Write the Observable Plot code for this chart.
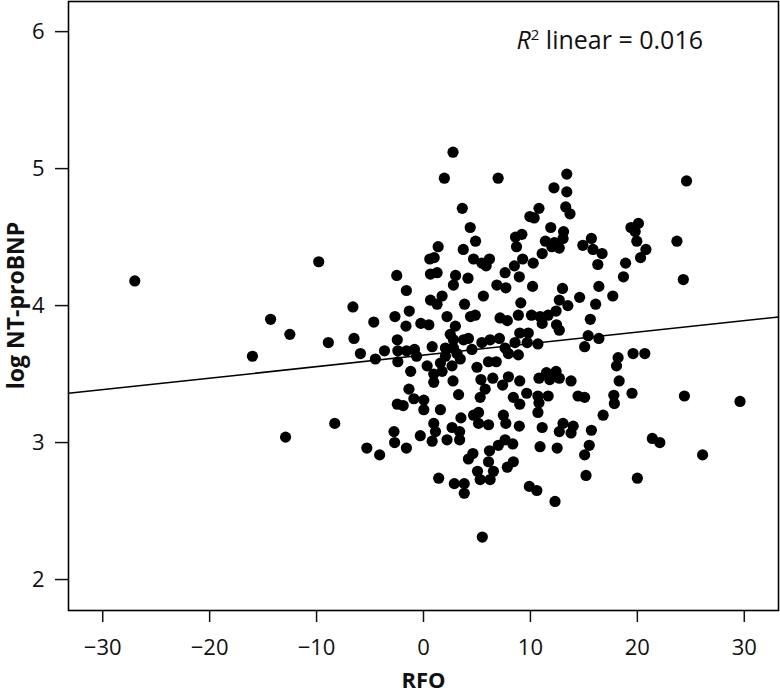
<!DOCTYPE html>
<html>
<head>
<meta charset="utf-8">
<script src="https://cdn.jsdelivr.net/npm/d3@7"></script>
<script src="https://cdn.jsdelivr.net/npm/@observablehq/plot@0.6"></script>
<style>
  body { margin: 0; background: #fff; }
  #chart { position: relative; width: 780px; height: 695px; }
  #chart svg { position: absolute; left: 0; top: 0; }
  .r2 { position: absolute; font-family: "Open Sans", sans-serif; font-size: 25px; line-height: 1; color: #111; white-space: nowrap; }
  .r2 i { font-style: italic; }
  .r2 sup { font-size: 15px; vertical-align: 0.6em; line-height: 0; }
  .ytitle { position: absolute; font-family: "Open Sans", sans-serif; font-weight: bold; font-size: 23px; line-height: 1; color: #111; white-space: nowrap; transform-origin: center center; }
</style>
</head>
<body>
<div id="chart"></div>
<script>
// RFO values (x)
const rfo = [
  -27.0, -16.0, -14.3, -12.5, -12.9, -9.8, -8.9, -8.3, -6.6, -6.5,
  -5.9, -5.3, -4.65, -4.5, -4.1, -3.65, -2.76, -2.7, -2.67, -2.5,
  -1.6, -1.33, -1.64, -2.45, -2.4, -1.58, -0.84, -0.65, -2.4, -1.2,
  -1.36, -0.9, -2.45, -1.9, -1.6, -0.3, -0.25,
  2.76, 1.95, 6.98, 13.4, 12.2, 13.4, 13.3, 13.7, 3.63, 10.8,
  9.95, 10.35, 4.37, 11.9, 13.1, 4.87, 8.6, 9.2, 8.7, 1.37,
  3.72, 11.4, 12.25, 12.7, 13.05, 11.1, 12.0, 14.9, 15.7, 15.85,
  16.7, 16.3, 16.4, 0.59, 1.0, 0.65, 1.27, 3.0, 2.8, 4.16,
  4.68, 5.46, 6.17, 5.86, 7.63, 8.5, 9.27, 10.26, 8.96, 6.86,
  7.7, 10.2, 13.0,
  0.65, 1.74, 1.27, 5.6, 3.84, 9.1, 12.7, 14.6, 16.1, 17.7,
  13.5, 2.2, 4.4, 4.84, 7.16, 7.84, 8.87, 10.1, 10.9, 11.66,
  12.4, 11.1, 12.44, 12.7, 15.6, 0.5, 2.98, 2.5, 3.75, 4.2,
  2.8, 0.81, 2.05, 2.8, 4.53, 5.46, 6.23, 7.1, 9.0, 9.8,
  8.56, 9.7, 10.7, 7.63, 7.94, 8.87, 15.4, 16.4, 15.07, 2.05,
  3.13, 3.44, 1.58, 2.67, 0.34, 6.08, 6.8, 5.0, 1.74, 0.96,
  0.96, 2.76, 5.37, 6.48, 7.94, 9.0, 10.8, 11.5, 12.4, 11.8,
  12.7, 13.8, 18.2, 18.05, 5.77, 5.3, 7.4, 3.28, 8.4, 9.65,
  10.7, 11.66, 10.8, 9.0, 14.45, 15.07, 17.8, 17.85, 0.03, 0.03,
  1.58, 3.5, 4.68, 5.15, 7.47, 10.7,
  0.96, 0.81, 1.12, 2.67, 3.38, 2.2, 3.38, 5.15, 6.08, 7.7,
  8.96, 11.1, 13.05, 12.7, 14.0, 13.8, 15.7, 10.9, 12.5, 15.5,
  15.07, 15.2, 6.17, 7.0, 7.63, 8.35, 4.62, 4.2, 6.08, 5.05,
  6.54, 5.3, 6.23, 7.84, 8.4, 1.42, 2.88, 3.81, 3.81, 9.9,
  10.6, 12.3, 5.5,
  24.6, 19.4, 20.1, 19.8, 19.95, 20.8, 20.3, 23.7, 24.3, 18.9,
  18.7, 19.6, 20.7, 18.3, 19.5, 16.8, 24.4, 29.6, 21.4, 22.1,
  26.1, 20.0
];
// log NT-proBNP values (y), same order
const logNT = [
  4.18, 3.63, 3.90, 3.79, 3.04, 4.32, 3.73, 3.14, 3.99, 3.76,
  3.65, 2.96, 3.88, 3.61, 2.91, 3.67, 3.08, 3.00, 3.92, 4.22,
  4.11, 3.96, 3.85, 3.75, 3.67, 3.67, 3.68, 3.63, 3.59, 3.52,
  3.39, 3.32, 3.28, 3.27, 2.96, 3.05, 3.87,
  5.12, 4.93, 4.93, 4.96, 4.86, 4.83, 4.72, 4.67, 4.71, 4.71,
  4.65, 4.64, 4.57, 4.57, 4.54, 4.47, 4.50, 4.52, 4.43, 4.43,
  4.41, 4.47, 4.46, 4.42, 4.49, 4.38, 4.43, 4.44, 4.49, 4.41,
  4.38, 4.30, 4.14, 4.34, 4.35, 4.23, 4.24, 4.22, 4.15, 4.20,
  4.34, 4.31, 4.34, 4.29, 4.24, 4.29, 4.34, 4.31, 4.21, 4.15,
  4.13, 4.14, 4.125,
  4.04, 4.07, 4.01, 4.07, 4.01, 4.02, 4.04, 4.06, 4.01, 4.07,
  4.00, 3.92, 3.92, 3.93, 3.91, 3.89, 3.93, 3.93, 3.92, 3.93,
  3.96, 3.87, 3.86, 3.82, 3.90, 3.86, 3.85, 3.79, 3.75, 3.76,
  3.75, 3.70, 3.69, 3.69, 3.68, 3.73, 3.75, 3.76, 3.80, 3.80,
  3.73, 3.73, 3.72, 3.69, 3.65, 3.64, 3.78, 3.76, 3.70, 3.63,
  3.65, 3.61, 3.58, 3.56, 3.56, 3.59, 3.59, 3.55, 3.52, 3.50,
  3.44, 3.45, 3.46, 3.47, 3.48, 3.45, 3.47, 3.51, 3.52, 3.46,
  3.47, 3.45, 3.62, 3.56, 3.39, 3.33, 3.42, 3.35, 3.33, 3.36,
  3.34, 3.34, 3.29, 3.28, 3.34, 3.33, 3.345, 3.285, 3.31, 3.24,
  3.24, 3.18, 3.20, 3.22, 3.20, 3.22,
  3.14, 3.01, 3.08, 3.11, 3.08, 3.02, 3.02, 3.14, 3.13, 3.14,
  3.12, 3.11, 3.14, 3.08, 3.12, 3.07, 3.09, 2.97, 2.96, 2.98,
  2.91, 2.76, 2.94, 2.98, 3.02, 2.99, 2.92, 2.88, 2.86, 2.79,
  2.79, 2.73, 2.73, 2.82, 2.86, 2.74, 2.70, 2.70, 2.63, 2.68,
  2.65, 2.57, 2.31,
  4.91, 4.57, 4.60, 4.54, 4.47, 4.41, 4.35, 4.47, 4.19, 4.31,
  4.21, 3.65, 3.65, 3.45, 3.36, 3.20, 3.34, 3.30, 3.03, 3.00,
  2.91, 2.74
];
const xTicks = [-30, -20, -10, 0, 10, 20, 30];
const yTicks = [2, 3, 4, 5, 6];
const xTitle = "RFO";
const yTitle = "log NT-proBNP";
const r2Value = "0.016";

const data = rfo.map((x, i) => ({ x, y: logNT[i] }));

// least-squares fit computed from the data
const mx = d3.mean(rfo), my = d3.mean(logNT);
const slope = d3.sum(data, d => (d.x - mx) * (d.y - my)) / d3.sum(data, d => (d.x - mx) ** 2);
const intercept = my - slope * mx;
const xDomain = [-33.2, 33.2];
const yDomain = [1.774, 6.22];
const fit = xDomain.map(x => ({ x, y: intercept + slope * x }));

const W = 780, H = 695, mL = 68, mR = 2, mT = 1, mB = 85;

const svg = Plot.plot({
  width: W, height: H,
  marginLeft: mL, marginRight: mR, marginTop: mT, marginBottom: mB,
  style: { fontFamily: "'Open Sans', sans-serif", fontSize: "22px", color: "#111", background: "#fff" },
  x: { domain: xDomain, label: null },
  y: { domain: yDomain, label: null },
  marks: [
    Plot.axisX({ ticks: xTicks, tickSize: 12, tickPadding: 17, tickFormat: d => d < 0 ? "\u2212" + Math.abs(d) : String(d), label: null, strokeWidth: 1.5 }),
    Plot.axisY({ ticks: yTicks, tickSize: 13, tickPadding: 11, tickFormat: d => String(d), label: null, strokeWidth: 1.5 }),
    Plot.frame({ stroke: "#000", strokeWidth: 1.6 }),
    Plot.line(fit, { x: "x", y: "y", stroke: "#000", strokeWidth: 1.5 }),
    Plot.dot(data, { x: "x", y: "y", r: 5.6, fill: "#000", stroke: "none" }),
    Plot.text([xTitle], { text: d => d, frameAnchor: "bottom", dy: 70, fontWeight: "bold", fontSize: 22, fill: "#111", lineAnchor: "middle" })
  ]
});

const chart = document.getElementById("chart");
chart.appendChild(svg);

// R² annotation
const r2 = document.createElement("div");
r2.className = "r2";
r2.innerHTML = `<i>R</i><sup>2</sup> linear = ${r2Value}`;
chart.appendChild(r2);
r2.style.left = (610 - r2.offsetWidth / 2) + "px";
r2.style.top = (39 - r2.offsetHeight / 2) + "px";

// y-axis title
const yt = document.createElement("div");
yt.className = "ytitle";
yt.textContent = yTitle;
chart.appendChild(yt);
const cy = mT + (H - mT - mB) / 2;
yt.style.left = (15 - yt.offsetWidth / 2) + "px";
yt.style.top = (cy - yt.offsetHeight / 2) + "px";
yt.style.transform = "rotate(-90deg)";
</script>
</body>
</html>
